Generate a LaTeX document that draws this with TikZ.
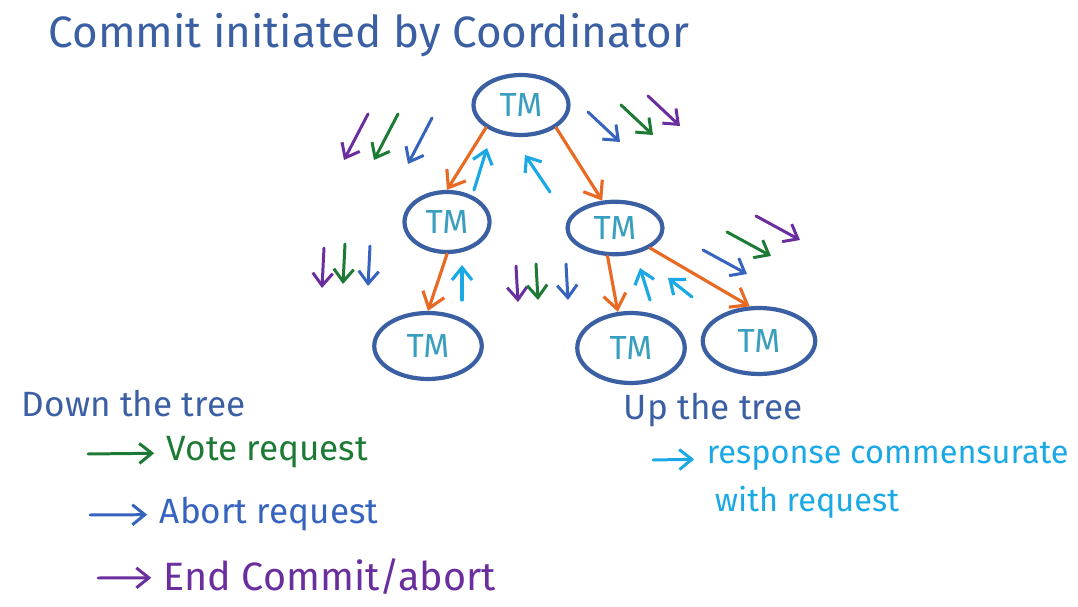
\documentclass[tikz,border=0pt]{standalone}
\usepackage{fontspec}
\setmainfont{Fira Sans}
\usepackage{xcolor}
\definecolor{inkblue}{HTML}{3B5FA3}
\definecolor{tmteal}{HTML}{3A9FBF}
\definecolor{downorange}{HTML}{E86A24}
\definecolor{upcyan}{HTML}{1BA9E6}
\definecolor{votegreen}{HTML}{1D7A35}
\definecolor{abortblue}{HTML}{3563BE}
\definecolor{endpurple}{HTML}{6B2E9E}
\usetikzlibrary{arrows.meta,positioning,shapes.geometric,calc}

\begin{document}
\begin{tikzpicture}[x=0.02cm,y=-0.02cm,
    tm/.style={ellipse,draw=inkblue,line width=2.4pt,minimum width=1.9cm,
      minimum height=1.2cm,inner sep=0pt,text=tmteal,
      font=\fontsize{19}{20}\selectfont},
    big/.style={minimum width=2.15cm,minimum height=1.32cm},
    down/.style={downorange,line width=1.8pt,line cap=round,
      -{Straight Barb[length=3mm,width=4.5mm]}},
    up/.style={upcyan,line width=1.8pt,line cap=round,
      -{Straight Barb[length=2.5mm,width=4mm]}},
    msg/.style={line width=1.7pt,line cap=round,
      -{Straight Barb[length=2.5mm,width=4mm]}},
    key/.style={msg,shorten >=5pt},
    lbl/.style={anchor=west,inner sep=2pt,font=\fontsize{20}{22}\selectfont}]
  \useasboundingbox (0,0) rectangle (1078,607);

  % title
  \node[lbl,text=inkblue,font=\fontsize{25}{28}\selectfont] (title) at (45,35)
    {Commit initiated by Coordinator};

  % the tree
  \node[tm] (top) at (521,105) {TM};
  \node[tm,minimum width=1.7cm] (lm) at (447,222) {TM};
  \node[tm,minimum height=1.05cm] (rm) at (615,228) {TM};
  \node[tm,big] (bl) at (428,346) {TM};
  \node[tm,big,minimum height=1.4cm] (bm) at (631,348) {TM};
  \node[tm,big,minimum width=2.25cm] (br) at (759,341) {TM};

  \draw[down] (top.south west) -- (lm.north);
  \draw[down] (top.south east) -- (rm.115);
  \draw[down] (lm.south) -- (bl.north);
  \draw[down] (rm.255) -- (bm.110);
  \draw[down] (rm.south east) -- (br.105);

  % responses going up
  \foreach \n/\sx/\sy/\ex/\ey in {lm/27/-32/40/-74, rm/-65/-36/-90/-73,
      bl/34/-46/34/-81, bm/19/-48/9/-80, bm/61/-51/37/-70}
    \draw[up] ($(\n)+(\sx,\sy)$) -- ($(\n)+(\ex,\ey)$);

  % requests going down
  \coordinate (cTL) at ($(top)+(-153,9)$);
  \coordinate (cTR) at ($(top)+(67,7)$);
  \coordinate (cML) at ($(lm)+(-123,26)$);
  \coordinate (cMC) at ($(rm)+(-99,38)$);
  \coordinate (cMR) at ($(rm)+(88,22)$);
  \foreach \c/\dx/\dy in {endpurple/0/0, votegreen/30/0, abortblue/64/4}
    \draw[msg,\c] ($(cTL)+(\dx,\dy)$) -- ++(-24,46);
  \foreach \c/\dx/\dy in {abortblue/0/0, votegreen/33/-7, endpurple/60/-16}
    \draw[msg,\c] ($(cTR)+(\dx,\dy)$) -- ++(32,30);
  \foreach \c/\dx/\dy in {endpurple/0/0, votegreen/21/-4, abortblue/46/-2}
    \draw[msg,\c] ($(cML)+(\dx,\dy)$) -- ++(-2,40);
  \foreach \c/\dx/\dy in {endpurple/0/0, votegreen/20/-2, abortblue/50/-2}
    \draw[msg,\c] ($(cMC)+(\dx,\dy)$) -- ++(2,36);
  \foreach \c/\dx/\dy in {abortblue/0/0, votegreen/24/-18, endpurple/53/-34}
    \draw[msg,\c] ($(cMR)+(\dx,\dy)$) -- ++(44,24);

  % legend, down the tree
  \node[lbl,text=inkblue] (downlbl) at (18,404) {Down the tree};
  \node[lbl,text=votegreen] (vote) at (163,452) {Vote request};
  \node[lbl,text=abortblue] (abort) at (156,514) {Abort request};
  \node[lbl,text=endpurple,font=\fontsize{22.5}{24}\selectfont] (endca) at (160,577)
    {End Commit/abort};
  \coordinate (vs) at (88,454);
  \coordinate (as) at (90,515);
  \coordinate (es) at (98,578);
  \draw[key,votegreen] (vs) -- (vote);
  \draw[key,abortblue] (as) -- (abort);
  \draw[key,endpurple] (es) -- (endca);

  % legend, up the tree
  \node[lbl,text=inkblue] (uplbl) at (620,410) {Up the tree};
  \node[lbl,text=upcyan,font=\fontsize{18.5}{20}\selectfont] (resp) at (703,456)
    {response commensurate};
  \node[lbl,text=upcyan,font=\fontsize{18.5}{20}\selectfont] (withreq) at (711,502)
    {with request};
  \coordinate (rs) at (653,460);
  \draw[key,upcyan] (rs) -- (resp);
\end{tikzpicture}
\end{document}
